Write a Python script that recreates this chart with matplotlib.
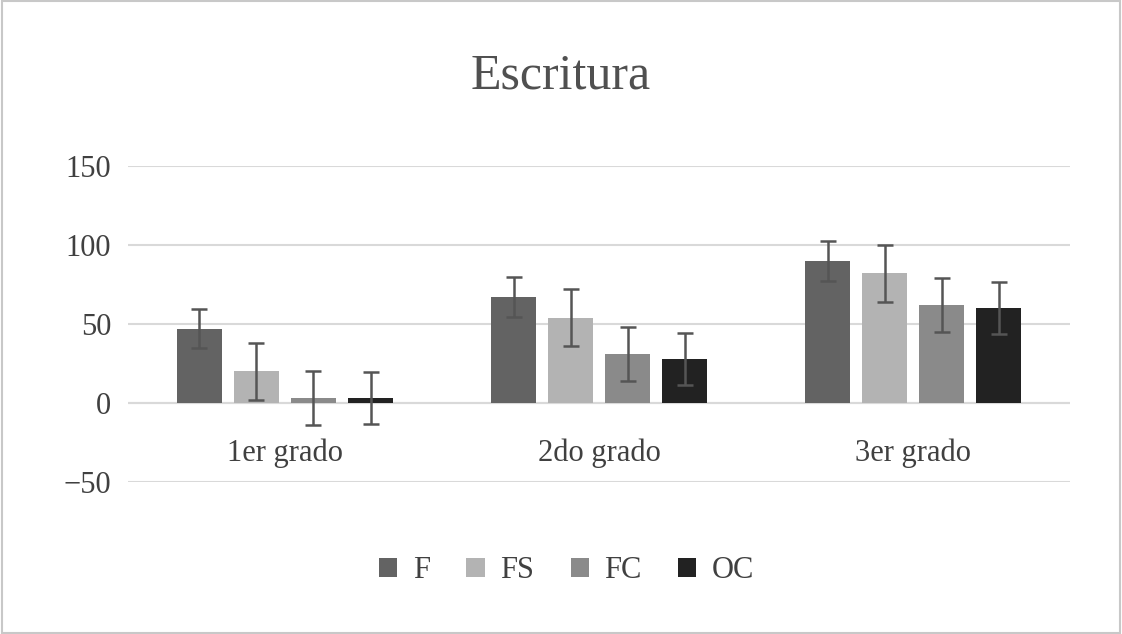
import matplotlib
matplotlib.use("Agg")
import matplotlib.pyplot as plt
import numpy as np

categories = ["1er grado", "2do grado", "3er grado"]
series = ["F", "FS", "FC", "OC"]
values = {"F": [47, 67, 90], "FS": [20, 54, 82], "FC": [3, 31, 62], "OC": [3, 28, 60]}
errors = {"F": [12.5, 12.5, 12.5], "FS": [18, 18, 18], "FC": [17, 17, 17], "OC": [16.5, 16.5, 16.5]}
colors = {"F": "#636363", "FS": "#b3b3b3", "FC": "#8a8a8a", "OC": "#222222"}

plt.rcParams['font.family'] = ['Liberation Serif', 'DejaVu Serif']
fig = plt.figure(figsize=(11.22, 6.34), dpi=100)
fig.patches.append(plt.Rectangle((0.002, 0.002), 0.996, 0.996, transform=fig.transFigure,
                                 fill=False, edgecolor="#c8c8c8", lw=1.5))
ax = fig.add_axes([0.114, 0.240, 0.840, 0.498])
x = np.arange(len(categories))
w = 0.143; step = 0.1815
for i, s in enumerate(series):
    pos = x + (i - 1.5) * step
    ax.bar(pos, values[s], w, color=colors[s], label=s, zorder=3)
    ax.errorbar(pos, values[s], yerr=errors[s], fmt="none", ecolor="#555555",
                elinewidth=1.8, capsize=6, capthick=1.8, zorder=4)
ax.set_xlim(-0.5, 2.5)
ax.set_ylim(-50, 150)
ax.set_yticks([-50, 0, 50, 100, 150])
ax.yaxis.grid(True, color="#d9d9d9", lw=1.5, zorder=0)
ax.axhline(0, color="#d9d9d9", lw=1.5, zorder=1)
for sp in ax.spines.values():
    sp.set_visible(False)
ax.set_xticks([])
ax.tick_params(axis="y", length=0, labelsize=22, labelcolor="#404040", pad=12)
for i, c in enumerate(categories):
    ax.text(i, -32, c, ha="center", va="center", fontsize=22, color="#404040")
fig.text(0.5, 0.88, "Escritura", ha="center", va="center", fontsize=36, color="#505050")
fig.legend(loc="center", bbox_to_anchor=(0.505, 0.10), ncol=4, frameon=False,
           fontsize=22, labelcolor="#404040", handlelength=0.6, handleheight=0.6,
           columnspacing=1.2, handletextpad=0.5)
fig.savefig("out.png", dpi=100)
